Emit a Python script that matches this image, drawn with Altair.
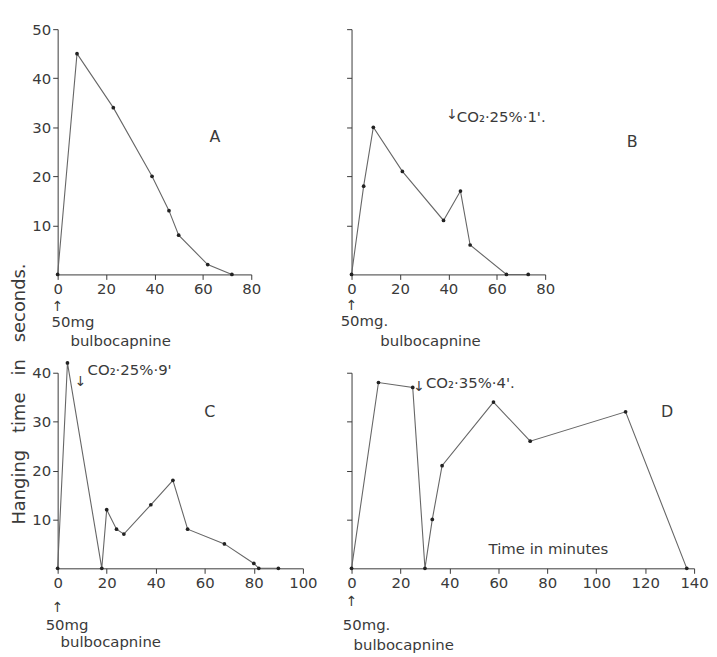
import altair as alt
import pandas as pd

# ---- data (time in minutes, hanging time in seconds) ----
a_time = [0, 8, 23, 39, 46, 50, 62, 72]
a_hang = [0, 45, 34, 20, 13, 8, 2, 0]

b_time = [0, 5, 9, 21, 38, 45, 49, 64, 73]
b_hang = [0, 18, 30, 21, 11, 17, 6, 0, 0]

c_time = [0, 4, 18, 20, 24, 27, 38, 47, 53, 68, 80, 82, 90]
c_hang = [0, 42, 0, 12, 8, 7, 13, 18, 8, 5, 1, 0, 0]

d_time = [0, 11, 25, 30, 33, 37, 58, 73, 112, 137]
d_hang = [0, 38, 37, 0, 10, 21, 34, 26, 32, 0]

panel_letters = ["A", "B", "C", "D"]
x_max = [80, 80, 100, 140]
y_max = [50, 50, 40, 40]

# annotations (label, time, hang) in each panel's data coordinates
a_notes = [("50mg", -2.5, -9.8), ("bulbocapnine", 5.3, -13.5)]
b_notes = [("50mg.", -4.5, -9.6), ("bulbocapnine", 11.9, -13.5), ("CO₂·25%·1'.", 43.5, 32)]
c_notes = [("50mg", -4.9, -11.5), ("bulbocapnine", 1.2, -15.0), ("CO₂·25%·9'", 12.2, 40.5)]
d_notes = [("50mg.", -3.6, -11.6), ("bulbocapnine", 0.8, -15.6), ("CO₂·35%·4'.", 30.4, 37.8),
           ("Time  in  minutes", 56, 4)]

# arrows (centred)
a_arrows = [("↑", 0, -6.7)]
b_arrows = [("↑", 0, -6.5), ("↓", 41.5, 32.5)]
c_arrows = [("↑", 0, -8.1), ("↓", 9.3, 38)]
d_arrows = [("↑", 0, -6.9), ("↓", 27.6, 37)]

# panel letter positions (time, hang)
letter_pos = [(65, 28), (116, 27), (62, 32), (129, 32)]

y_title = "Hanging\u00a0\u00a0 time\u00a0\u00a0 in\u00a0\u00a0 seconds."

INK = "#3a3a3a"
LINE = "#666666"
FONT = "DejaVu Sans"


def panel(t, h, xmax, ymax, w, ht, ylabels, notes, arrows, letter, lpos, ytitle=None):
    df = pd.DataFrame({"t": t, "h": h})
    xenc = alt.X("t:Q", scale=alt.Scale(domain=[0, xmax], nice=False, zero=True),
                 axis=alt.Axis(values=list(range(0, xmax + 1, 20)), title=None, grid=False,
                               labelFontSize=15, labelFont=FONT, labelColor=INK,
                               domainColor=INK, tickColor=INK, tickSize=5, labelPadding=2,
                               labelFlush=False))
    yaxis_kw = dict(values=list(range(10, ymax + 1, 10)), grid=False, labels=ylabels,
                    labelFontSize=15, labelFont=FONT, labelColor=INK,
                    domainColor=INK, tickColor=INK, tickSize=5, labelPadding=2,
                    labelFlush=False)
    if ytitle:
        yaxis_kw.update(title=ytitle, titleX=-38, titleY=21, titleAngle=-90,
                        titleAlign="center", titleBaseline="middle", titleFont=FONT,
                        titleFontSize=18, titleFontWeight="normal", titleColor=INK)
    else:
        yaxis_kw.update(title=None)
    yenc = alt.Y("h:Q", scale=alt.Scale(domain=[0, ymax], nice=False), axis=alt.Axis(**yaxis_kw))

    line = alt.Chart(df).mark_line(
        color=LINE, strokeWidth=1.1,
        point=alt.OverlayMarkDef(filled=True, size=14, color="#222222")
    ).encode(x=xenc, y=yenc)

    ndf = pd.DataFrame(notes, columns=["label", "t", "h"])
    ntext = alt.Chart(ndf).mark_text(align="left", baseline="middle", font=FONT,
                                     fontSize=15, color=INK).encode(
        x="t:Q", y="h:Q", text="label:N")
    adf = pd.DataFrame(arrows, columns=["label", "t", "h"])
    atext = alt.Chart(adf).mark_text(align="center", baseline="middle", font=FONT,
                                     fontSize=14, color=INK).encode(
        x="t:Q", y="h:Q", text="label:N")
    ldf = pd.DataFrame({"label": [letter], "t": [lpos[0]], "h": [lpos[1]]})
    ltext = alt.Chart(ldf).mark_text(align="center", baseline="middle", font=FONT,
                                     fontSize=16, color=INK).encode(
        x="t:Q", y="h:Q", text="label:N")
    return alt.layer(line, ntext, atext, ltext).properties(width=w, height=ht)


A = panel(a_time, a_hang, x_max[0], y_max[0], 195, 247, True, a_notes, a_arrows,
          panel_letters[0], letter_pos[0])
B = panel(b_time, b_hang, x_max[1], y_max[1], 195, 247, False, b_notes, b_arrows,
          panel_letters[1], letter_pos[1])
C = panel(c_time, c_hang, x_max[2], y_max[2], 247, 197, True, c_notes, c_arrows,
          panel_letters[2], letter_pos[2], ytitle=y_title)
D = panel(d_time, d_hang, x_max[3], y_max[3], 345, 197, False, d_notes, d_arrows,
          panel_letters[3], letter_pos[3])

chart = alt.concat(A, B, C, D, columns=2, spacing={"row": 99, "column": 49},
                   bounds="flush").properties(
    padding={"left": 2, "top": 12, "right": 0, "bottom": 5},
    background="white"
).configure_view(stroke=None)

chart.save("out.html", embed_options={"renderer": "svg", "actions": False})
